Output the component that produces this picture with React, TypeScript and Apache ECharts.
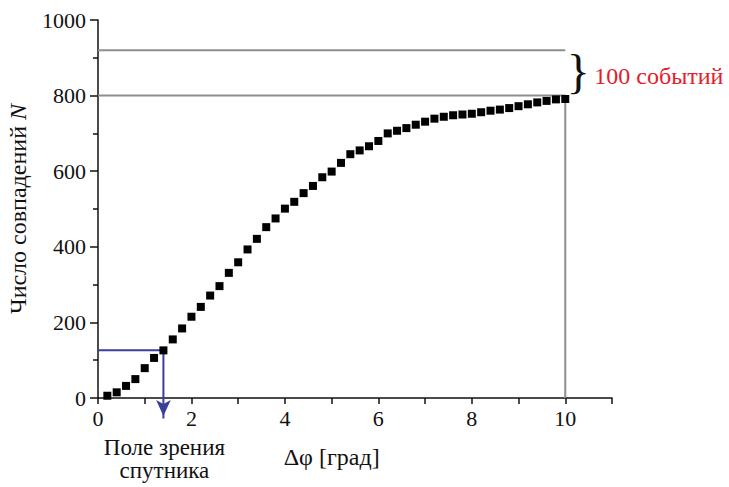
import React, { useEffect, useRef } from "react";
import * as echarts from "echarts";

// Δφ [град]
const deltaPhi = [
  0.2, 0.4, 0.6, 0.8, 1.0, 1.2, 1.4, 1.6, 1.8, 2.0,
  2.2, 2.4, 2.6, 2.8, 3.0, 3.2, 3.4, 3.6, 3.8, 4.0,
  4.2, 4.4, 4.6, 4.8, 5.0, 5.2, 5.4, 5.6, 5.8, 6.0,
  6.2, 6.4, 6.6, 6.8, 7.0, 7.2, 7.4, 7.6, 7.8, 8.0,
  8.2, 8.4, 8.6, 8.8, 9.0, 9.2, 9.4, 9.6, 9.8, 10.0,
];
// Число совпадений N
const coincidences = [
  6, 15, 32, 50, 79, 106, 126, 155, 184, 215,
  241, 271, 296, 331, 359, 393, 421, 452, 475, 501,
  519, 542, 561, 584, 599, 622, 645, 655, 666, 680,
  700, 707, 714, 723, 731, 739, 744, 748, 750, 752,
  756, 760, 763, 767, 772, 777, 782, 786, 790, 791,
];

const upperLevel = [[0, 920], [10, 920]];
const lowerLevel = [[0, 800], [10, 800], [10, 0]];
const fovLine = [[0, 126], [1.4, 126], [1.4, -54]];
const fovArrowTip = [1.4, -66];
const braceRange = [800, 920];

const SERIF = "Liberation Serif";

export default function App() {
  const ref = useRef<HTMLDivElement>(null);

  useEffect(() => {
    document.body.style.margin = "0";
    if (!ref.current) return;
    const chart = echarts.init(ref.current, undefined, { renderer: "svg" });
    chart.setOption({
      animation: false,
      backgroundColor: "#ffffff",
      textStyle: { fontFamily: SERIF },
      grid: { left: 98, right: 117, top: 20, bottom: 89 },
      xAxis: {
        type: "value",
        min: 0,
        max: 11,
        interval: 1,
        axisLine: { show: true, lineStyle: { color: "#111", width: 1.5 } },
        axisTick: { show: true, length: 6, lineStyle: { color: "#111", width: 1.5 } },
        axisLabel: {
          formatter: (v: number) => (v % 2 === 0 ? String(v) : ""),
          fontFamily: SERIF,
          fontSize: 22,
          color: "#111",
          margin: 9,
        },
        splitLine: { show: false },
      },
      yAxis: {
        type: "value",
        min: 0,
        max: 1000,
        interval: 200,
        axisLine: { show: true, lineStyle: { color: "#111", width: 1.5 } },
        axisTick: { show: true, length: 8, lineStyle: { color: "#111", width: 1.5 } },
        minorTick: { show: true, splitNumber: 2, length: 5, lineStyle: { color: "#111", width: 1.5 } },
        axisLabel: {
          formatter: (v: number) => String(v),
          fontFamily: SERIF,
          fontSize: 22,
          color: "#111",
          margin: 12,
        },
        splitLine: { show: false },
        minorSplitLine: { show: false },
      },
      series: [
        { type: "line", data: upperLevel, symbol: "none", lineStyle: { color: "#8e8e8e", width: 2 }, silent: true, z: 1 },
        { type: "line", data: lowerLevel, symbol: "none", lineStyle: { color: "#8e8e8e", width: 2 }, silent: true, z: 1 },
        { type: "line", data: fovLine, symbol: "none", clip: false, lineStyle: { color: "#3a3f9c", width: 2 }, silent: true, z: 2 },
        {
          type: "scatter", data: [fovArrowTip], symbol: "arrow", symbolSize: [11, 16], symbolRotate: 180,
          symbolOffset: [0, -7], clip: false, itemStyle: { color: "#3a3f9c", opacity: 1 }, silent: true, z: 2,
        },
        {
          type: "scatter", data: deltaPhi.map((x, i) => [x, coincidences[i]]), symbol: "rect", symbolSize: 8,
          itemStyle: { color: "#000", opacity: 1 }, z: 3,
        },
      ],
    });

    const px = (p: number[]) => chart.convertToPixel({ gridIndex: 0 }, p) as number[];
    const braceTop = px([10, braceRange[1]]);
    const braceBot = px([10, braceRange[0]]);
    const braceMid = (braceTop[1] + braceBot[1]) / 2;
    const arrowBase = px([1.4, 0]);
    const xMid = px([5, 0]);
    const yMid = px([0, 500]);

    chart.setOption({
      graphic: [
        {
          type: "text", x: 18, y: yMid[1], rotation: Math.PI / 2,
          style: {
            text: "Число совпадений {i|N}", fontFamily: SERIF, fontSize: 24, fill: "#111", align: "center", verticalAlign: "middle",
            rich: { i: { fontStyle: "italic", fontFamily: SERIF, fontSize: 24, fill: "#111" } },
          },
        },
        {
          type: "text", x: xMid[0], y: xMid[1] + 59,
          style: { text: "Δφ [град]", fontFamily: SERIF, fontSize: 24, fill: "#111", align: "center", verticalAlign: "middle" },
        },
        {
          type: "text", x: arrowBase[0] + 1, y: arrowBase[1] + 49,
          style: { text: "Поле зрения", fontFamily: SERIF, fontSize: 23, fill: "#111", align: "center", verticalAlign: "middle" },
        },
        {
          type: "text", x: arrowBase[0] + 1, y: arrowBase[1] + 72,
          style: { text: "спутника", fontFamily: SERIF, fontSize: 23, fill: "#111", align: "center", verticalAlign: "middle" },
        },
        {
          type: "text", x: braceTop[0] + 13, y: braceMid - 1,
          style: { text: "}", fontFamily: SERIF, fontSize: 48, fill: "#111", align: "center", verticalAlign: "middle" },
        },
        {
          type: "text", x: braceTop[0] + 29, y: braceMid + 3,
          style: { text: "100 событий", fontFamily: SERIF, fontSize: 24, fill: "#e3202a", align: "left", verticalAlign: "middle" },
        },
      ],
    });

    return () => chart.dispose();
  }, []);

  return <div ref={ref} style={{ width: 729, height: 487 }} />;
}
